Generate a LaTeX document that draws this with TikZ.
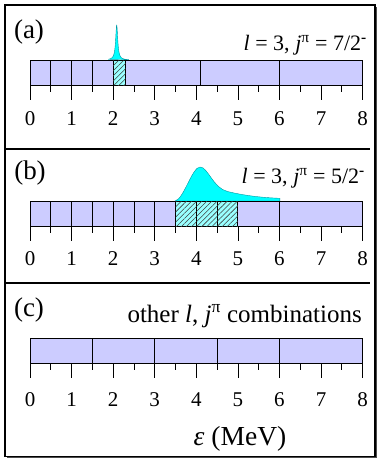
\documentclass[tikz,border=0pt]{standalone}
\usepackage{fontspec}
\setmainfont{Liberation Serif}
\usetikzlibrary{patterns.meta}
\definecolor{barfill}{RGB}{204,204,255}
\definecolor{peakfill}{RGB}{0,255,255}
\definecolor{peakedge}{RGB}{0,150,160}
\tikzset{
  cell/.style={draw=black, line width=0.9pt, fill=barfill},
  hatchcell/.style={draw=black, line width=0.9pt, fill=peakfill!40,
    postaction={pattern={Lines[angle=45,distance=3.6pt,line width=0.55pt]}, pattern color=black!75}},
  peak/.style={fill=peakfill, draw=peakedge, line width=0.4pt},
  tickline/.style={draw=black, line width=0.8pt},
  digit/.style={anchor=base, inner sep=0pt, font=\fontsize{21}{24}\selectfont},
  panellabel/.style={inner sep=0pt, font=\fontsize{27}{30}\selectfont},
  info/.style={anchor=base east, inner sep=0pt, font=\fontsize{22}{26}\selectfont},
  frame/.style={draw=black, line width=1.1pt},
}
\newcommand\myaxis[3]{%
  \foreach \e in {0,...,8} {
    \draw[tickline] (\e,#1+25) -- (\e,#1+40);
    \node[digit] (#3\e) at (\e,#2) {\e};
  }
  \foreach \e in {0.5,1.5,...,7.5} {
    \draw[tickline] (\e,#1+25) -- (\e,#1+32);
  }
}
\begin{document}
\begin{tikzpicture}[x=1pt,y=-1pt]
\useasboundingbox (0,0) rectangle (381,464);
\fill[white] (0,0) rectangle (381,464);
% frame and separators
\draw[frame] (5,5) rectangle (375,456.5);
\draw[black!70, line width=1pt] (376,7) -- (376,457.5) -- (7,457.5);
\draw[frame] (5,149) -- (370,149);
\draw[frame] (5,283) -- (370,283);
% panel labels
\node[panellabel] (labA) at (29,32) {(a)};
\node[panellabel] (labB) at (30,173) {(b)};
\node[panellabel] (labC) at (29,310) {(c)};
\node[info] (infoA) at (367,50) {\textit{l} = 3, \textit{j}\textsuperscript{π} = 7/2\textsuperscript{\textbf{-}}};
\node[info] (infoB) at (365,183.5) {\textit{l} = 3, \textit{j}\textsuperscript{π} = 5/2\textsuperscript{\textbf{-}}};
\node[info, font=\fontsize{25}{28}\selectfont] (infoC) at (362,322) {other \textit{l}, \textit{j}\textsuperscript{π} combinations};
\begin{scope}[xshift=30pt, x=41.58pt]
  % ---- panel (a)
  \fill[peak] plot[domain=1.88:2.38, samples=150, smooth]
     (\x, {60-35/(1+((\x-2.085)/0.03)^2)}) -- cycle;
  \foreach \a/\b in {0/0.5,0.5/1,1/1.5,1.5/2,2.3/4.1,4.1/6,6/8}
    \draw[cell] (\a,60) rectangle (\b,85);
  \draw[hatchcell] (2,60) rectangle (2.3,85);
  \myaxis{60}{125}{da}
  % ---- panel (b)
  \filldraw[peak] (3.49,201) .. controls (3.7,199) and (3.9,167) .. (4.09,167)
     .. controls (4.28,167) and (4.4,188) .. (4.75,191.5)
     .. controls (5.1,195) and (5.5,197.5) .. (6.01,198.3) -- (6.01,201) -- cycle;
  \foreach \a/\b in {0/0.5,0.5/1,1/1.5,1.5/2,2/2.5,2.5/3,3/3.5,5/6,6/8}
    \draw[cell] (\a,201) rectangle (\b,226);
  \foreach \a/\b in {3.5/4,4/4.5,4.5/5}
    \draw[hatchcell] (\a,201) rectangle (\b,226);
  \myaxis{201}{265}{db}
  % ---- panel (c)
  \foreach \a/\b in {0/1.5,1.5/3,3/4.5,4.5/6,6/8}
    \draw[cell] (\a,338) rectangle (\b,363);
  \myaxis{338}{406}{dc}
\end{scope}
\node[anchor=base, inner sep=0pt, font=\fontsize{27.5}{30}\selectfont] (unit) at (240,445) {\textit{ε} (MeV)};
\end{tikzpicture}
\end{document}
